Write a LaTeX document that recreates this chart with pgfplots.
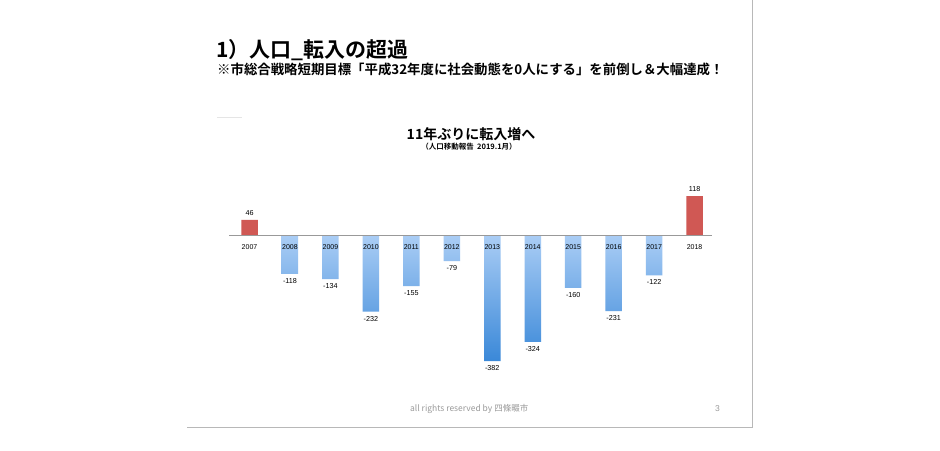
\documentclass[border=0pt]{standalone}
\usepackage{pgfplots}
\pgfplotsset{compat=1.18}
\usepackage{fontspec}
\setmainfont{Liberation Sans}
\newfontfamily\cjk{Noto Sans CJK JP}[BoldFont={Noto Sans CJK JP Bold}]
\definecolor{barred}{HTML}{D05854}
\definecolor{bluetop}{HTML}{AACDF5}
\definecolor{bluebot}{HTML}{3A88D8}
\definecolor{linegray}{HTML}{B8B8B8}
\definecolor{footgray}{HTML}{9A9A9A}
\begin{document}
\begin{tikzpicture}
\useasboundingbox[fill=white] (0,0) rectangle (940pt,-450pt);
% slide borders
\draw[linegray, line width=0.8pt] (187pt,-427pt) -- (752pt,-427pt) -- (752pt,0pt);
\draw[black!10, line width=0.6pt] (217pt,-117pt) -- (242pt,-117pt);
% titles
\node[anchor=base west, inner sep=0pt] at (216pt,-57pt) {\cjk\bfseries\fontsize{21}{22}\selectfont 1）人口\_転入の超過};
\node[anchor=base west, inner sep=0pt] at (217pt,-74pt) {\cjk\bfseries\fontsize{13.4}{15}\selectfont ※市総合戦略短期目標「平成32年度に社会動態を0人にする」を前倒し＆大幅達成！};
\node[anchor=base, inner sep=0pt] at (471pt,-139pt) {\cjk\bfseries\fontsize{14}{16}\selectfont 11年ぶりに転入増へ};
\node[anchor=base, inner sep=0pt] at (469pt,-149pt) {\cjk\bfseries\fontsize{7.5}{9}\selectfont （人口移動報告\ \ 2019.1月）};
% footer
\node[anchor=base west, inner sep=0pt, text=footgray] at (410pt,-411pt) {\cjk\fontsize{8.5}{10}\selectfont all rights reserved by 四條畷市};
\node[anchor=base east, inner sep=0pt, text=footgray] at (720pt,-411pt) {\fontsize{8.5}{10}\selectfont 3};
\begin{axis}[
  at={(229pt,-367pt)}, anchor=south west,
  scale only axis, width=483pt, height=174.9pt,
  xmin=-0.507, xmax=11.43, ymin=-400, ymax=130,
  axis x line=middle, axis y line=none,
  x axis line style={-, draw=black!40, line width=0.7pt},
  axis on top, clip=false,
  xtick={0,...,11},
  xticklabels={2007,2008,2009,2010,2011,2012,2013,2014,2015,2016,2017,2018},
  major tick length=0pt,
  xticklabel style={font=\fontsize{7}{8}\selectfont, yshift=-6pt},
  ytick=\empty,
  ybar, bar width=16.5pt, bar shift=0pt,
  /pgf/number format/assume math mode=true,
  nodes near coords,
  nodes near coords style={font=\fontsize{7.2}{8}\selectfont, text=black, inner sep=4.5pt},
]
\addplot[fill=barred, draw=none] coordinates {(0,46) (11,118)};
\addplot[draw=none, top color=bluetop, bottom color=bluebot] coordinates {
 (1,-118) (2,-134) (3,-232) (4,-155) (5,-79) (6,-382) (7,-324) (8,-160) (9,-231) (10,-122)};
\end{axis}
\end{tikzpicture}
\end{document}
